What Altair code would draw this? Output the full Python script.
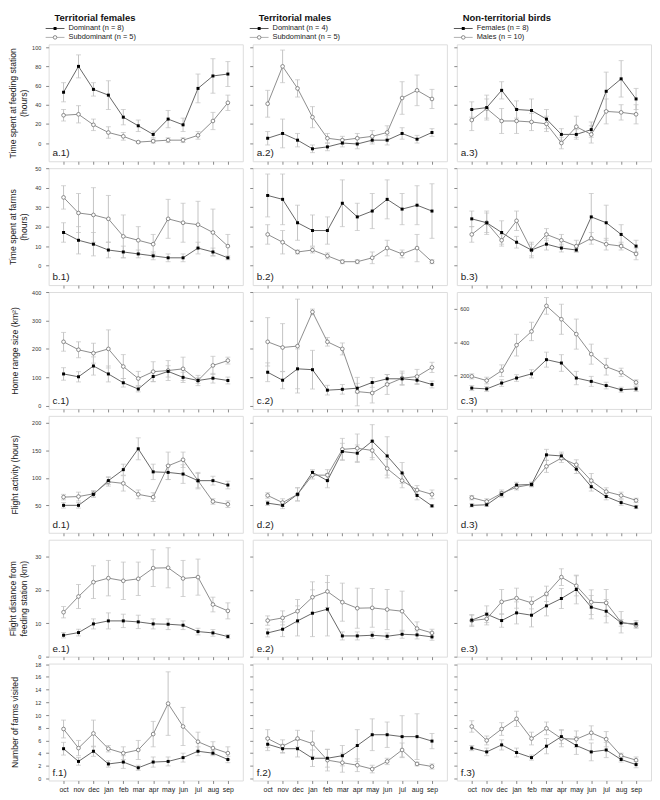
import altair as alt
import pandas as pd

months = ["oct", "nov", "dec", "jan", "feb", "mar", "apr", "may", "jun", "jul", "aug", "sep"]

# ---- a: time spent at feeding station (hours)
a1_dom = [53, 80, 56, 50, 27, 18, 9, 25, 19, 57, 70, 72]
a1_dom_se = [10, 12, 7, 15, 8, 6, 3.5, 9, 7, 15, 18, 13]
a1_sub = [29, 30, 19, 11, 7, 1, 2, 3, 3, 8, 23, 42]
a1_sub_se = [6, 9, 6, 6, 4, 1, 2, 2.5, 2.5, 4, 9, 8]
a2_dom = [5, 10, 3, -6, -4, 0, -1, 3, 3, 10, 4, 11]
a2_dom_se = [7, 15, 7, 4, 4, 4, 5, 4, 5, 6, 4, 4]
a2_sub = [41, 80, 57, 27, 5, 3, 5, 7, 11, 47, 55, 46]
a2_sub_se = [14, 17, 9, 11, 5, 4, 5, 6, 7, 17, 16, 10]
a3_fem = [35, 37, 55, 35, 34, 25, 9, 9, 14, 54, 67, 46]
a3_fem_se = [8, 13, 9, 9, 12, 10, 6, 5, 8, 20, 19, 11]
a3_mal = [24, 36, 23, 23, 22, 20, 0, 17, 9, 33, 32, 30]
a3_mal_se = [11, 10, 13, 13, 9, 8, 6, 11, 9, 13, 8, 10]

# ---- b: time spent at farms (hours)
b1_dom = [17, 13, 11, 8, 7, 6, 5, 4, 4, 9, 7, 4]
b1_dom_se = [5, 7, 6, 4, 3, 2, 2, 2, 2, 3, 2, 1]
b1_sub = [35, 27, 26, 24, 15, 13, 11, 24, 22, 21, 17, 10]
b1_sub_se = [6, 10, 14, 12, 11, 7, 5, 10, 10, 12, 12, 6]
b2_dom = [36, 34, 22, 18, 18, 32, 25, 28, 34, 29, 31, 28]
b2_dom_se = [11, 13, 9, 8, 7, 12, 7, 9, 10, 8, 10, 14]
b2_sub = [16, 12, 7, 8, 5, 2, 2, 4, 9, 6, 9, 2]
b2_sub_se = [5, 6, 1, 1.5, 1.5, 1, 1, 3, 4, 2, 7, 1]
b3_fem = [24, 22, 17, 12, 8, 11, 9, 8, 25, 22, 16, 10]
b3_fem_se = [4, 6, 6, 3, 3, 3, 2, 1, 12, 9, 5, 3]
b3_mal = [16, 22, 13, 23, 8, 16, 13, 10, 14, 11, 10, 6]
b3_mal_se = [4, 5, 3, 5, 4, 3, 3, 3, 3, 3, 2, 3]

# ---- c: home range size (km2)
c1_dom = [112, 102, 140, 112, 81, 59, 103, 121, 100, 89, 97, 89]
c1_dom_se = [22, 18, 32, 28, 15, 10, 18, 20, 18, 10, 17, 12]
c1_sub = [225, 197, 185, 200, 138, 96, 120, 124, 130, 89, 142, 159]
c1_sub_se = [33, 28, 35, 67, 42, 25, 35, 35, 41, 18, 32, 12]
c2_dom = [118, 90, 130, 127, 55, 58, 62, 82, 95, 95, 90, 75]
c2_dom_se = [33, 30, 70, 68, 17, 17, 17, 17, 15, 20, 15, 12]
c2_sub = [225, 205, 210, 330, 225, 200, 50, 45, 75, 97, 103, 135]
c2_sub_se = [85, 84, 165, 10, 15, 21, 50, 35, 35, 25, 25, 18]
c3_fem = [125, 120, 155, 185, 210, 295, 275, 185, 165, 140, 115, 120]
c3_fem_se = [15, 15, 20, 20, 25, 45, 50, 40, 30, 20, 15, 15]
c3_mal = [195, 170, 229, 382, 464, 617, 537, 448, 328, 253, 219, 159]
c3_mal_se = [15, 20, 35, 65, 55, 50, 90, 90, 60, 50, 25, 15]

# ---- d: flight activity (hours)
d1_dom = [50, 50, 70, 95, 115, 153, 111, 110, 107, 95, 95, 87]
d1_dom_se = [5, 5, 5, 7, 10, 20, 14, 13, 17, 13, 8, 7]
d1_sub = [65, 66, 71, 93, 90, 70, 65, 122, 133, 95, 57, 52]
d1_sub_se = [5, 8, 6, 8, 14, 8, 8, 25, 14, 15, 5, 6]
d2_dom = [54, 50, 70, 110, 95, 148, 145, 167, 140, 109, 68, 49]
d2_dom_se = [4, 6, 12, 5, 13, 15, 15, 30, 35, 19, 8, 2]
d2_sub = [68, 55, 70, 105, 105, 152, 154, 150, 117, 95, 78, 70]
d2_sub_se = [5, 7, 12, 7, 10, 20, 26, 17, 17, 13, 8, 8]
d3_fem = [50, 51, 70, 87, 88, 142, 140, 116, 84, 66, 55, 47]
d3_fem_se = [3, 3, 5, 5, 4, 10, 7, 8, 8, 6, 5, 3]
d3_mal = [64, 57, 72, 83, 88, 121, 136, 124, 95, 75, 68, 59]
d3_mal_se = [4, 5, 6, 5, 4, 11, 8, 9, 13, 7, 6, 4]

# ---- e: flight distance from feeding station (km)
e1_dom = [6.4, 7.2, 9.8, 10.7, 10.7, 10.4, 9.8, 9.7, 9.4, 7.5, 7.1, 6.0]
e1_dom_se = [0.8, 1, 1.5, 2.4, 2, 2, 1.5, 1.6, 1.3, 1, 1, 0.6]
e1_sub = [13.3, 18, 22.3, 23.5, 22.7, 23.3, 26.5, 26.6, 23.4, 23.8, 15.6, 13.7]
e1_sub_se = [1.7, 3.6, 4.9, 5.3, 5.6, 5, 5.5, 6, 5.4, 5.4, 2.2, 2.4]
e2_dom = [7.1, 8.2, 10.7, 13, 14.2, 6.2, 6.2, 6.4, 6.1, 6.7, 6.5, 5.9]
e2_dom_se = [1.2, 2.2, 4.5, 7, 8, 1.2, 1.2, 1, 1, 1.2, 1.2, 1]
e2_sub = [10.8, 11.6, 13.6, 17.8, 19.5, 16.3, 14.5, 14.6, 14.1, 13.6, 8.4, 7.1]
e2_sub_se = [1.4, 2.1, 3.5, 4.6, 4.8, 5.7, 6, 5.8, 6, 6, 2, 1.1]
e3_fem = [10.9, 12.7, 10.8, 13.1, 12.4, 15.2, 17.4, 20.1, 14.8, 13.6, 10.1, 9.8]
e3_fem_se = [1.5, 2.5, 2, 3.3, 3.5, 3, 3, 4.3, 3.5, 3.5, 1, 1]
e3_mal = [10.8, 11.3, 16.4, 17.5, 16.1, 18.8, 23.8, 21.2, 16.3, 16.1, 10.3, 9.4]
e3_mal_se = [1.8, 1.8, 3.7, 3, 1.8, 2.3, 2.5, 3, 3.7, 4, 3.2, 0.9]

# ---- f: number of farms visited
f1_dom = [4.7, 2.7, 4.3, 2.3, 2.6, 1.7, 2.6, 2.7, 3.3, 4.3, 4.0, 3.0]
f1_dom_se = [1, 0.6, 0.8, 0.5, 1, 0.4, 0.8, 0.7, 0.7, 0.7, 0.4, 0.5]
f1_sub = [7.8, 4.8, 7.1, 4.7, 4.0, 4.5, 7.0, 11.8, 8.2, 5.8, 4.8, 4.0]
f1_sub_se = [1.4, 1.2, 2.1, 0.5, 1, 1.5, 2, 5, 3, 1.5, 1, 1]
f2_dom = [5.4, 4.7, 4.7, 3.2, 3.2, 3.6, 5.2, 6.9, 6.9, 6.6, 6.6, 5.9]
f2_dom_se = [1, 0.7, 1.3, 1.3, 1.4, 1.6, 2.5, 2.5, 2, 3.3, 3.6, 1.2]
f2_sub = [6.3, 5.1, 6.3, 5.5, 2.9, 2.5, 2.1, 1.5, 2.7, 4.5, 2.3, 1.9]
f2_sub_se = [1.4, 1, 1.3, 2, 1.7, 1.5, 1, 0.6, 0.5, 1.1, 0.3, 0.4]
f3_fem = [4.8, 4.2, 5.3, 4.1, 3.3, 5.1, 6.6, 5.2, 4.2, 4.5, 3.0, 2.2]
f3_fem_se = [0.4, 0.6, 0.8, 0.7, 0.4, 1.2, 1.1, 1.4, 1.4, 1.2, 0.4, 0.5]
f3_mal = [8.2, 6.0, 7.8, 9.4, 6.3, 7.9, 6.3, 6.2, 7.2, 6.2, 3.6, 2.9]
f3_mal_se = [0.9, 0.7, 1, 1.2, 1, 1, 1.3, 1.3, 1.1, 1.2, 0.4, 0.5]

col_titles = ["Territorial females", "Territorial males", "Non-territorial birds"]
legend_labels = [
    ["Dominant (n = 8)", "Subdominant (n = 5)"],
    ["Dominant (n = 4)", "Subdominant (n = 5)"],
    ["Females (n = 8)", "Males (n = 10)"],
]
row_titles = [
    ["Time spent at feeding station", "(hours)"],
    ["Time spent at farms", "(hours)"],
    "Home range size (km²)",
    "Flight activity (hours)",
    ["Flight distance from", "feeding station (km)"],
    "Number of farms visited",
]
row_keys = ["a", "b", "c", "d", "e", "f"]
y_domains = [[-19, 103], [-10, 50], [-11, 400], [0, 213], [0, 35], [-0.3, 18.1]]
y_ticks = [
    [0, 20, 40, 60, 80, 100],
    [0, 10, 20, 30, 40, 50],
    [0, 100, 200, 300, 400],
    [50, 100, 150, 200],
    [0, 10, 20, 30],
    [0, 2, 4, 6, 8, 10, 12, 14, 16, 18],
]
c3_domain = [0, 700]
c3_ticks = [200, 400, 600]

panel_data = {
    ("a", 1): (a1_dom, a1_dom_se, a1_sub, a1_sub_se),
    ("a", 2): (a2_dom, a2_dom_se, a2_sub, a2_sub_se),
    ("a", 3): (a3_fem, a3_fem_se, a3_mal, a3_mal_se),
    ("b", 1): (b1_dom, b1_dom_se, b1_sub, b1_sub_se),
    ("b", 2): (b2_dom, b2_dom_se, b2_sub, b2_sub_se),
    ("b", 3): (b3_fem, b3_fem_se, b3_mal, b3_mal_se),
    ("c", 1): (c1_dom, c1_dom_se, c1_sub, c1_sub_se),
    ("c", 2): (c2_dom, c2_dom_se, c2_sub, c2_sub_se),
    ("c", 3): (c3_fem, c3_fem_se, c3_mal, c3_mal_se),
    ("d", 1): (d1_dom, d1_dom_se, d1_sub, d1_sub_se),
    ("d", 2): (d2_dom, d2_dom_se, d2_sub, d2_sub_se),
    ("d", 3): (d3_fem, d3_fem_se, d3_mal, d3_mal_se),
    ("e", 1): (e1_dom, e1_dom_se, e1_sub, e1_sub_se),
    ("e", 2): (e2_dom, e2_dom_se, e2_sub, e2_sub_se),
    ("e", 3): (e3_fem, e3_fem_se, e3_mal, e3_mal_se),
    ("f", 1): (f1_dom, f1_dom_se, f1_sub, f1_sub_se),
    ("f", 2): (f2_dom, f2_dom_se, f2_sub, f2_sub_se),
    ("f", 3): (f3_fem, f3_fem_se, f3_mal, f3_mal_se),
}

W, H = 196, 118
FONT = "Liberation Sans"
ERR = "#c2c2c2"
DARK_LINE = "#555555"
LIGHT_LINE = "#808080"
OPEN_STROKE = "#707070"
single = alt.Chart(pd.DataFrame({"k": [0]}))


def legend_layers(ci):
    lab1, lab2 = legend_labels[ci]
    return [
        single.mark_text(text=col_titles[ci], font=FONT, fontSize=9.5, fontWeight="bold",
                         align="left", baseline="middle", color="#111").encode(
            x=alt.value(6), y=alt.value(-27)),
        single.mark_rule(color=DARK_LINE, strokeWidth=1).encode(
            x=alt.value(-3), x2=alt.value(16), y=alt.value(-16)),
        single.mark_point(shape="square", filled=True, color="black", size=9, opacity=1).encode(
            x=alt.value(6.5), y=alt.value(-16)),
        single.mark_text(text=lab1, font=FONT, fontSize=7.5, align="left", baseline="middle",
                         color="#222").encode(x=alt.value(20), y=alt.value(-16)),
        single.mark_rule(color="#b0b0b0", strokeWidth=1).encode(
            x=alt.value(-3), x2=alt.value(16), y=alt.value(-7)),
        single.mark_point(shape="circle", fill="white", stroke=OPEN_STROKE, strokeWidth=0.8,
                          size=13, opacity=1).encode(x=alt.value(6.5), y=alt.value(-7)),
        single.mark_text(text=lab2, font=FONT, fontSize=7.5, align="left", baseline="middle",
                         color="#222").encode(x=alt.value(20), y=alt.value(-7)),
    ]


def panel(ri, ci):
    rk = row_keys[ri]
    dom, dom_se, sub, sub_se = panel_data[(rk, ci + 1)]
    recs = []
    for s, vals, ses in (("s1", dom, dom_se), ("s2", sub, sub_se)):
        for m, v, e in zip(months, vals, ses):
            recs.append({"month": m, "series": s, "value": v, "lo": v - e, "hi": v + e})
    df = pd.DataFrame(recs)

    bottom = ri == 5
    xaxis = alt.Axis(title=None, labels=bottom, labelFontSize=7, labelPadding=2, labelAngle=0,
                     tickSize=3, domain=False, grid=False, labelColor="#222", labelFont=FONT)
    xscale = alt.Scale(type="point", padding=1)
    xenc = alt.X("month:N", sort=months, scale=xscale, axis=xaxis)

    if rk == "c" and ci == 2:
        yscale = alt.Scale(domain=c3_domain, nice=False, zero=False)
        yaxis = alt.Axis(title=None, values=c3_ticks, labels=True, labelAlign="left",
                         labelPadding=-6, labelFontSize=5.5, tickSize=3, domain=False, grid=False,
                         labelColor="#333", labelFont=FONT)
    else:
        yscale = alt.Scale(domain=y_domains[ri], nice=False, zero=False)
        if ci == 0:
            two = isinstance(row_titles[ri], list)
            yaxis = alt.Axis(title=row_titles[ri], values=y_ticks[ri], labelFontSize=5.5,
                             labelPadding=5, tickSize=3, domain=False, grid=False,
                             minExtent=17, maxExtent=17,
                             titlePadding=3 if two else 12, titleFontSize=8.7, titleFontWeight="normal",
                             titleColor="#222", titleFont=FONT, titleLineHeight=11,
                             labelColor="#333", labelFont=FONT)
        else:
            yaxis = alt.Axis(title=None, values=y_ticks[ri], labels=False, tickSize=3,
                             domain=False, grid=False)

    base = alt.Chart(df)
    err = base.mark_rule(color=ERR, strokeWidth=1).encode(
        x=xenc, y=alt.Y("lo:Q", scale=yscale, axis=yaxis), y2="hi:Q")
    cap_lo = base.mark_tick(color=ERR, thickness=1, size=5).encode(
        x=xenc, y=alt.Y("lo:Q", scale=yscale, axis=yaxis))
    cap_hi = base.mark_tick(color=ERR, thickness=1, size=5).encode(
        x=xenc, y=alt.Y("hi:Q", scale=yscale, axis=yaxis))
    line = base.mark_line(strokeWidth=0.9).encode(
        x=xenc, y=alt.Y("value:Q", scale=yscale, axis=yaxis),
        color=alt.Color("series:N", scale=alt.Scale(domain=["s1", "s2"], range=[DARK_LINE, LIGHT_LINE]),
                        legend=None),
        detail="series:N")
    pts_open = base.transform_filter(alt.datum.series == "s2").mark_point(
        shape="circle", fill="white", stroke=OPEN_STROKE, strokeWidth=0.8, size=14, opacity=1).encode(
        x=xenc, y=alt.Y("value:Q", scale=yscale, axis=yaxis))
    pts_fill = base.transform_filter(alt.datum.series == "s1").mark_point(
        shape="square", filled=True, color="black", size=9, opacity=1).encode(
        x=xenc, y=alt.Y("value:Q", scale=yscale, axis=yaxis))
    label = single.mark_text(text=f"{rk}.{ci + 1})", font=FONT, fontSize=10, align="left",
                             baseline="alphabetic", color="#222").encode(
        x=alt.value(4), y=alt.value(H - 5))
    layers = [err, cap_lo, cap_hi, line, pts_open, pts_fill, label]
    if ri == 0:
        layers += legend_layers(ci)
    return alt.layer(*layers).properties(width=W, height=H)


panels = [panel(ri, ci) for ri in range(6) for ci in range(3)]

chart = alt.concat(*panels, columns=3, spacing={"row": 7, "column": 10}, bounds="flush").resolve_scale(
    x="independent", y="independent", color="independent"
).properties(
    padding={"left": 0, "top": 0, "right": 0, "bottom": 0}
).configure_view(stroke="#a0a0a0", strokeWidth=1.2).configure_axis(
    tickColor="#555", tickWidth=0.8
).configure(font=FONT, background="white")

chart.save("out.html", embed_options={"renderer": "svg", "actions": False})
